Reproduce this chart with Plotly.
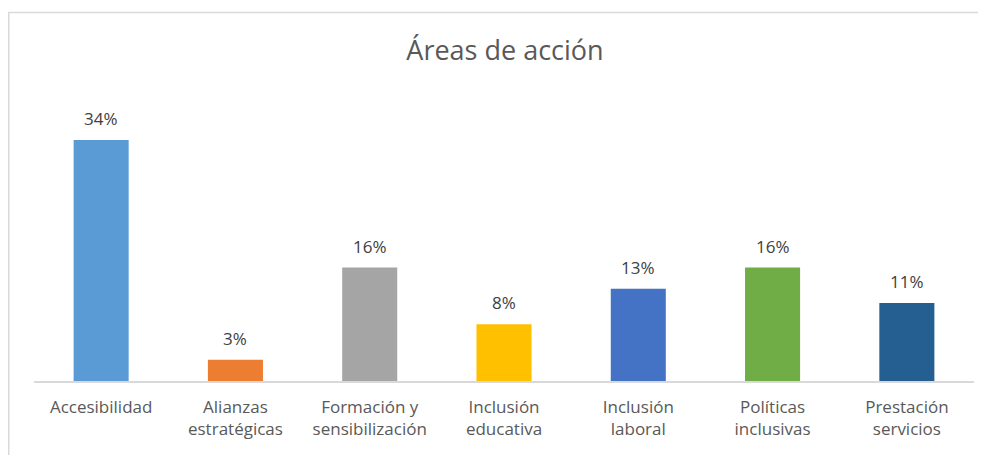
import plotly.graph_objects as go

categories = ["Accesibilidad", "Alianzas<br>estratégicas", "Formación y<br>sensibilización",
              "Inclusión<br>educativa", "Inclusión<br>laboral", "Políticas<br>inclusivas",
              "Prestación<br>servicios"]
values = [34, 3, 16, 8, 13, 16, 11]
labels = ["34%", "3%", "16%", "8%", "13%", "16%", "11%"]
colors = ["#5B9BD5", "#ED7D31", "#A5A5A5", "#FFC000", "#4472C4", "#70AD47", "#255E91"]

# page body has an 8px margin, so the figure is drawn 8px smaller
W, H = 978, 447
L, R, T, B = 26, 12, 93, 74
PW, PH = W - L - R, H - T - B

fig = go.Figure(go.Bar(
    x=categories, y=values,
    marker=dict(color=colors, line=dict(width=0)),
    width=0.41, cliponaxis=False, hoverinfo="x+y",
))

for c, v, t in zip(categories, values, labels):
    fig.add_annotation(x=c, y=v, text=t, showarrow=False, yanchor="bottom", yshift=8,
                       font=dict(size=17, color="#404040", family="Open Sans"))

fig.update_layout(
    width=W, height=H,
    margin=dict(l=L, r=R, t=T, b=B),
    paper_bgcolor="white", plot_bgcolor="white",
    title=dict(text="Áreas de acción", x=497 / W, xanchor="center", y=1 - 43 / H, yanchor="middle",
               font=dict(size=27, color="#595959", family="Open Sans")),
    font=dict(family="Open Sans", color="#595959"),
    showlegend=False,
)
fig.update_xaxes(showline=True, linecolor="#D9D9D9", linewidth=1.5, ticks="",
                 tickfont=dict(size=17, color="#595959"), showgrid=False,
                 ticklabelstandoff=10)
fig.update_yaxes(range=[0, 39.5], visible=False, showgrid=False, zeroline=False)

fig.add_shape(type="rect", xref="paper", yref="paper",
              x0=(0.75 - L) / PW, x1=(W + 20 - L) / PW,
              y0=-(B + 20) / PH, y1=(PH + T - 4.5) / PH,
              line=dict(color="#D9D9D9", width=1.5), fillcolor="rgba(0,0,0,0)", layer="below")

fig.write_html("out.html")
